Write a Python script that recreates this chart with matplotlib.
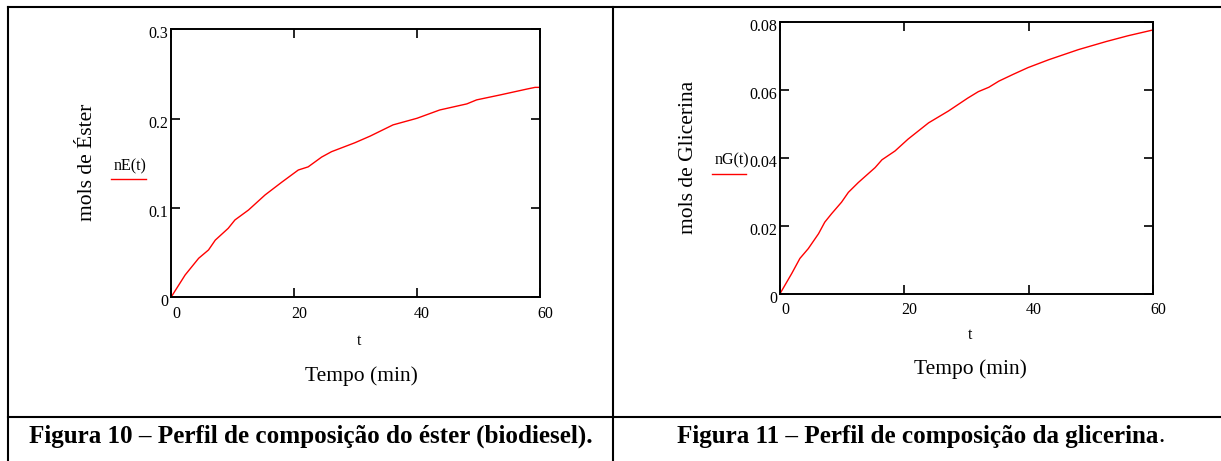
# Perfis de composição do éster e da glicerina (estilo Mathcad)
import matplotlib
matplotlib.use('Agg')
import matplotlib.pyplot as plt
from matplotlib.lines import Line2D
from matplotlib.transforms import ScaledTranslation

W, H = 1221, 461

# dados (t em min, mols)
t_ester = [0, 2.3, 4.5, 6.1, 7.2, 9.3, 10.4, 12.6, 15.3, 18.0, 20.7, 22.3, 24.5,
           26.1, 29.9, 32.4, 36.1, 40.0, 43.7, 48.1, 49.7, 53.5, 57.8, 59.2, 60]
n_ester = [0, 0.025, 0.0437, 0.053, 0.064, 0.0772, 0.0866, 0.0977, 0.1146, 0.1288,
           0.1425, 0.146, 0.157, 0.163, 0.173, 0.1805, 0.193, 0.2004, 0.2097, 0.2165,
           0.221, 0.2265, 0.233, 0.235, 0.235]

t_glic = [0, 1.9, 3.2, 4.55, 6.2, 7.2, 8.3, 9.9, 11.0, 12.6, 15.3, 16.4, 18.5,
          20.6, 23.9, 27.1, 30.2, 31.9, 33.6, 35.2, 37.5, 39.9, 43.2, 48.0, 52.5, 56.0, 60]
n_glic = [0, 0.006, 0.0104, 0.0133, 0.0177, 0.0211, 0.0236, 0.027, 0.0299, 0.0328,
          0.0372, 0.0395, 0.0421, 0.0456, 0.0504, 0.0539, 0.0577, 0.0596, 0.0609,
          0.0627, 0.0647, 0.0667, 0.069, 0.072, 0.0744, 0.0761, 0.0778]

x_ticks = [0, 20, 40, 60]
x_labels = ["0", "20", "40", "60"]
y_ticks_ester = [0, 0.1, 0.2, 0.3]
y_labels_ester = ["0", "0.1", "0.2", "0.3"]
y_ticks_glic = [0, 0.02, 0.04, 0.06, 0.08]
y_labels_glic = ["0", "0.02", "0.04", "0.06", "0.08"]

plt.rcParams['font.family'] = ['Liberation Serif', 'DejaVu Serif']

fig = plt.figure(figsize=(W / 100, H / 100), dpi=100)


def px(x, y):
    return x / W, 1 - y / H


def make_axes(box, t, n, yticks, ylabels, ymax):
    x0, y0, x1, y1 = box
    ax = fig.add_axes([x0 / W, 1 - y1 / H, (x1 - x0) / W, (y1 - y0) / H])
    ax.plot(t, n, color='red', lw=1.0)
    ax.set_xlim(0, 60)
    ax.set_ylim(0, ymax)
    ax.set_xticks(x_ticks)
    ax.set_xticklabels(x_labels)
    ax.set_yticks(yticks)
    ax.set_yticklabels(ylabels)
    ax.tick_params(direction='in', length=6.5, width=1.2, top=True, right=True,
                   labelsize=11.5, colors='black')
    ax.tick_params(axis='x', pad=6)
    ax.tick_params(axis='y', pad=2)
    for s in ax.spines.values():
        s.set_linewidth(1.4)
    # Mathcad desloca os rótulos um pouco
    dx = ScaledTranslation(5 / 100, 0, fig.dpi_scale_trans)
    for lab in ax.get_xticklabels():
        lab.set_transform(lab.get_transform() + dx)
    dy = ScaledTranslation(0, -3 / 100, fig.dpi_scale_trans)
    for lab in ax.get_yticklabels():
        lab.set_transform(lab.get_transform() + dy)
    return ax


make_axes((171, 29.3, 540, 297.3), t_ester, n_ester, y_ticks_ester, y_labels_ester, 0.3)
make_axes((780, 22.5, 1153, 293.7), t_glic, n_glic, y_ticks_glic, y_labels_glic, 0.08)

# rótulos dos eixos
fig.text(*px(359, 341), "t", ha='center', va='center', fontsize=11.5)
fig.text(*px(361, 376), "Tempo (min)", ha='center', va='center', fontsize=15.5)
fig.text(*px(87, 162), "mols de Éster", ha='center', va='center', rotation=90, fontsize=15.5)

fig.text(*px(970, 335), "t", ha='center', va='center', fontsize=11.5)
fig.text(*px(970, 369), "Tempo (min)", ha='center', va='center', fontsize=15.5)
fig.text(*px(689, 157), "mols de Glicerina", ha='center', va='center', rotation=90, fontsize=15.5)

# legendas estilo Mathcad
fig.text(*px(130, 166), "nE(t)", ha='center', va='center', fontsize=11.5)
fig.add_artist(Line2D([111 / W, 146 / W], [1 - 179 / H] * 2, transform=fig.transFigure,
                      color='red', lw=1.0))
fig.text(*px(732, 160), "nG(t)", ha='center', va='center', fontsize=11.5)
fig.add_artist(Line2D([712 / W, 746 / W], [1 - 174 / H] * 2, transform=fig.transFigure,
                      color='red', lw=1.0))

# moldura da tabela
border = dict(transform=fig.transFigure, color='black', lw=1.5)
fig.add_artist(Line2D([8 / W, 1], [1 - 7 / H] * 2, **border))
fig.add_artist(Line2D([8 / W, 1], [1 - 417 / H] * 2, **border))
fig.add_artist(Line2D([8 / W] * 2, [0, 1 - 7 / H], **border))
fig.add_artist(Line2D([613 / W] * 2, [0, 1 - 7 / H], **border))

# legendas das figuras
fig.text(*px(311, 436), "Figura 10 – Perfil de composição do éster (biodiesel).",
         ha='center', va='center', fontsize=18.1, fontweight='bold')
fig.text(*px(1158, 436), "Figura 11 – Perfil de composição da glicerina",
         ha='right', va='center', fontsize=18.1, fontweight='bold')
fig.text(*px(1158, 436), ".", ha='left', va='center', fontsize=18.1)

fig.savefig("out.png", dpi=100)
